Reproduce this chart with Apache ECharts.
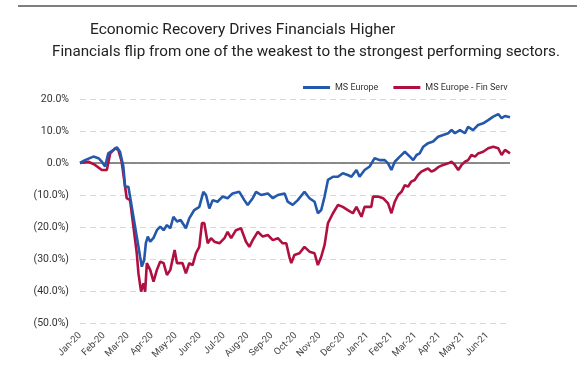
<!DOCTYPE html>
<html>
<head>
<meta charset="utf-8">
<script src="https://cdn.jsdelivr.net/npm/echarts@6/dist/echarts.min.js"></script>
<style>
html,body{margin:0;padding:0;background:#fff;}
#chart{width:577px;height:365px;}
</style>
</head>
<body>
<div id="chart"></div>
<script>
// Month tick labels (x axis, one per month from Jan-20)
var monthLabels = ['Jan-20','Feb-20','Mar-20','Apr-20','May-20','Jun-20','Jul-20','Aug-20','Sep-20','Oct-20','Nov-20','Dec-20','Jan-21','Feb-21','Mar-21','Apr-21','May-21','Jun-21'];
var yTicks = [20, 10, 0, -10, -20, -30, -40, -50];

// MS Europe: time in months since start of Jan-20, cumulative return (%)
var europeT = [0,0.21,0.56,0.77,0.91,1.05,1.18,1.39,1.54,1.67,1.81,1.88,2.02,2.09,2.23,2.37,2.51,2.58,2.68,2.75,2.83,2.93,3.07,3.21,3.35,3.49,3.63,3.77,3.90,4.05,4.20,4.42,4.56,4.77,4.98,5.15,5.26,5.40,5.54,5.74,5.95,6.16,6.37,6.65,6.86,7.00,7.21,7.35,7.56,7.84,8.05,8.26,8.54,8.67,8.74,8.88,9.09,9.37,9.58,9.79,9.93,10.07,10.21,10.35,10.56,10.77,10.97,11.18,11.33,11.54,11.67,11.88,12.09,12.30,12.51,12.72,12.86,13.00,13.14,13.35,13.56,13.77,13.91,14.05,14.18,14.33,14.53,14.74,14.95,15.16,15.37,15.51,15.65,15.86,16.07,16.20,16.41,16.62,16.83,17.04,17.25,17.46,17.60,17.74,17.95];
var europeV = [0,0.9,2.0,1.5,0.4,-1.1,3.0,4.0,4.9,3.5,-1.1,-7.4,-7.4,-10.5,-16.8,-23,-29.3,-32.4,-30.3,-25,-23,-24.6,-23.4,-21,-19.9,-21,-19.4,-20.4,-16.8,-18.3,-17.8,-20.4,-17.3,-14.7,-13.7,-9.0,-10,-14.2,-11.6,-12.1,-10.5,-11,-9.5,-9.0,-11.6,-13.1,-11,-9.0,-10,-9.5,-11,-10,-9.5,-12.1,-12.6,-13.1,-11.6,-9.0,-11,-12.1,-15.7,-14.7,-10.5,-5.3,-4.3,-4.3,-3.2,-3.75,-4.3,-2.2,-4.3,-2.2,-1.1,1.5,0.9,0.9,-0.1,-2.2,0.4,2.0,3.5,2.0,0.9,2.5,3.0,5.1,6.2,6.7,8.2,8.75,9.3,10.3,9.3,10.3,9.3,11.3,10.3,11.9,12.4,13.4,14.5,15.3,14.0,14.7,14.3];

// MS Europe - Fin Serv
var finT = [0,0.35,0.63,0.91,1.12,1.26,1.46,1.60,1.74,1.95,2.09,2.23,2.37,2.44,2.55,2.65,2.72,2.79,2.93,3.07,3.21,3.35,3.49,3.63,3.77,3.95,4.05,4.28,4.42,4.56,4.70,4.84,4.98,5.09,5.19,5.33,5.47,5.61,5.82,6.03,6.16,6.31,6.51,6.72,6.93,7.07,7.21,7.42,7.63,7.84,8.05,8.26,8.46,8.61,8.74,8.82,8.95,9.16,9.37,9.58,9.79,9.93,10.07,10.21,10.35,10.56,10.77,10.97,11.18,11.39,11.54,11.75,11.88,12.16,12.23,12.44,12.65,12.86,13.00,13.14,13.28,13.42,13.56,13.69,13.83,13.97,14.11,14.25,14.39,14.53,14.67,14.81,14.95,15.16,15.37,15.51,15.65,15.79,15.93,16.07,16.20,16.34,16.49,16.62,16.83,17.04,17.25,17.46,17.60,17.74,17.95];
var finV = [0,0.4,-0.6,-2.2,-2.2,3.0,4.6,4.1,0.4,-11,-11.6,-19.9,-28.2,-34.5,-40.2,-37.6,-40.2,-31.3,-33.4,-37.1,-33.4,-30.8,-31.3,-35,-33.4,-27.2,-31.3,-31.3,-34.5,-31.3,-31.9,-28.2,-26.2,-18.8,-18.8,-25.1,-23.5,-24.6,-25.1,-23.5,-21.5,-23.5,-21,-20.4,-24.6,-26.2,-24.1,-21.5,-23,-22.5,-24.1,-23.5,-25.1,-25.1,-29.3,-31.3,-28.75,-28.2,-26.2,-27.7,-28.2,-31.9,-29.3,-25.6,-18.8,-15.7,-13.1,-13.7,-14.7,-15.7,-13.7,-16.8,-13.7,-13.7,-10.5,-10.5,-11,-12.6,-15.7,-12.1,-10,-9.0,-6.9,-7.4,-5.8,-5.3,-3.75,-2.7,-2.2,-1.7,-2.7,-2.2,-1.3,-0.6,-0.1,0.4,-0.6,-2.2,-0.6,0.4,0.9,2.5,2.0,3.0,3.5,4.6,5.1,4.6,2.5,4.1,3.0];

var seriesNames = ['MS Europe', 'MS Europe - Fin Serv'];
var titleText = 'Economic Recovery Drives Financials Higher';
var subtitleText = 'Financials flip from one of the weakest to the strongest performing sectors.';

function pairs(t, v){ return t.map(function(x,i){ return [x, v[i]]; }); }
var FONT = "'Roboto', sans-serif";

var chart = echarts.init(document.getElementById('chart'), null, {renderer:'canvas'});
chart.setOption({
  animation: false,
  backgroundColor: '#fff',
  graphic: [{
    type: 'line', shape: {x1: 18, y1: 6, x2: 577, y2: 6},
    style: {stroke: '#555', lineWidth: 1.5}
  }],
  title: [
    {text: titleText, left: 90, top: 22, padding: 0, textStyle: {fontFamily: FONT, fontSize: 15.5, fontWeight: 'normal', color: '#222'}},
    {text: subtitleText, left: 52, top: 45, padding: 0, textStyle: {fontFamily: FONT, fontSize: 15.2, fontWeight: 'normal', color: '#222'}}
  ],
  legend: {
    top: 78, left: 298, itemWidth: 27, itemHeight: 3, itemGap: 15,
    icon: 'rect',
    textStyle: {fontFamily: FONT, fontSize: 9, color: '#333'},
    data: seriesNames
  },
  grid: {left: 80, right: 67, top: 99, bottom: 42, containLabel: false},
  xAxis: {
    type: 'value', min: 0, max: 17.95, interval: 1,
    axisLine: {show: false}, axisTick: {show: false}, splitLine: {show: false},
    axisLabel: {
      rotate: 45, fontFamily: FONT, fontSize: 9.5, color: '#444', margin: 11,
      formatter: function(v){ return (Math.abs(v - Math.round(v)) < 1e-6 && monthLabels[Math.round(v)]) ? monthLabels[Math.round(v)] : ''; }
    }
  },
  yAxis: {
    type: 'value', min: -50, max: 20, interval: 10,
    axisLine: {show: false}, axisTick: {show: false},
    splitLine: {show: true, lineStyle: {color: '#d9d9d9', type: [6, 4], width: 1}},
    axisLabel: {
      fontFamily: FONT, fontSize: 10.5, color: '#333', margin: 11,
      formatter: function(v){ return v < 0 ? '(' + Math.abs(v).toFixed(1) + '%)' : v.toFixed(1) + '%'; }
    }
  },
  series: [
    {
      name: seriesNames[0], type: 'line', showSymbol: false, symbol: 'none',
      data: pairs(europeT, europeV), z: 3,
      lineStyle: {color: '#2358aa', width: 2.6}, itemStyle: {color: '#2358aa'},
      markLine: {
        silent: true, symbol: 'none', label: {show: false}, z: 1,
        lineStyle: {color: '#666', type: 'solid', width: 1.5},
        data: [{yAxis: 0}]
      }
    },
    {
      name: seriesNames[1], type: 'line', showSymbol: false, symbol: 'none',
      data: pairs(finT, finV), z: 2,
      lineStyle: {color: '#b01040', width: 2.6}, itemStyle: {color: '#b01040'}
    }
  ]
});
</script>
</body>
</html>
